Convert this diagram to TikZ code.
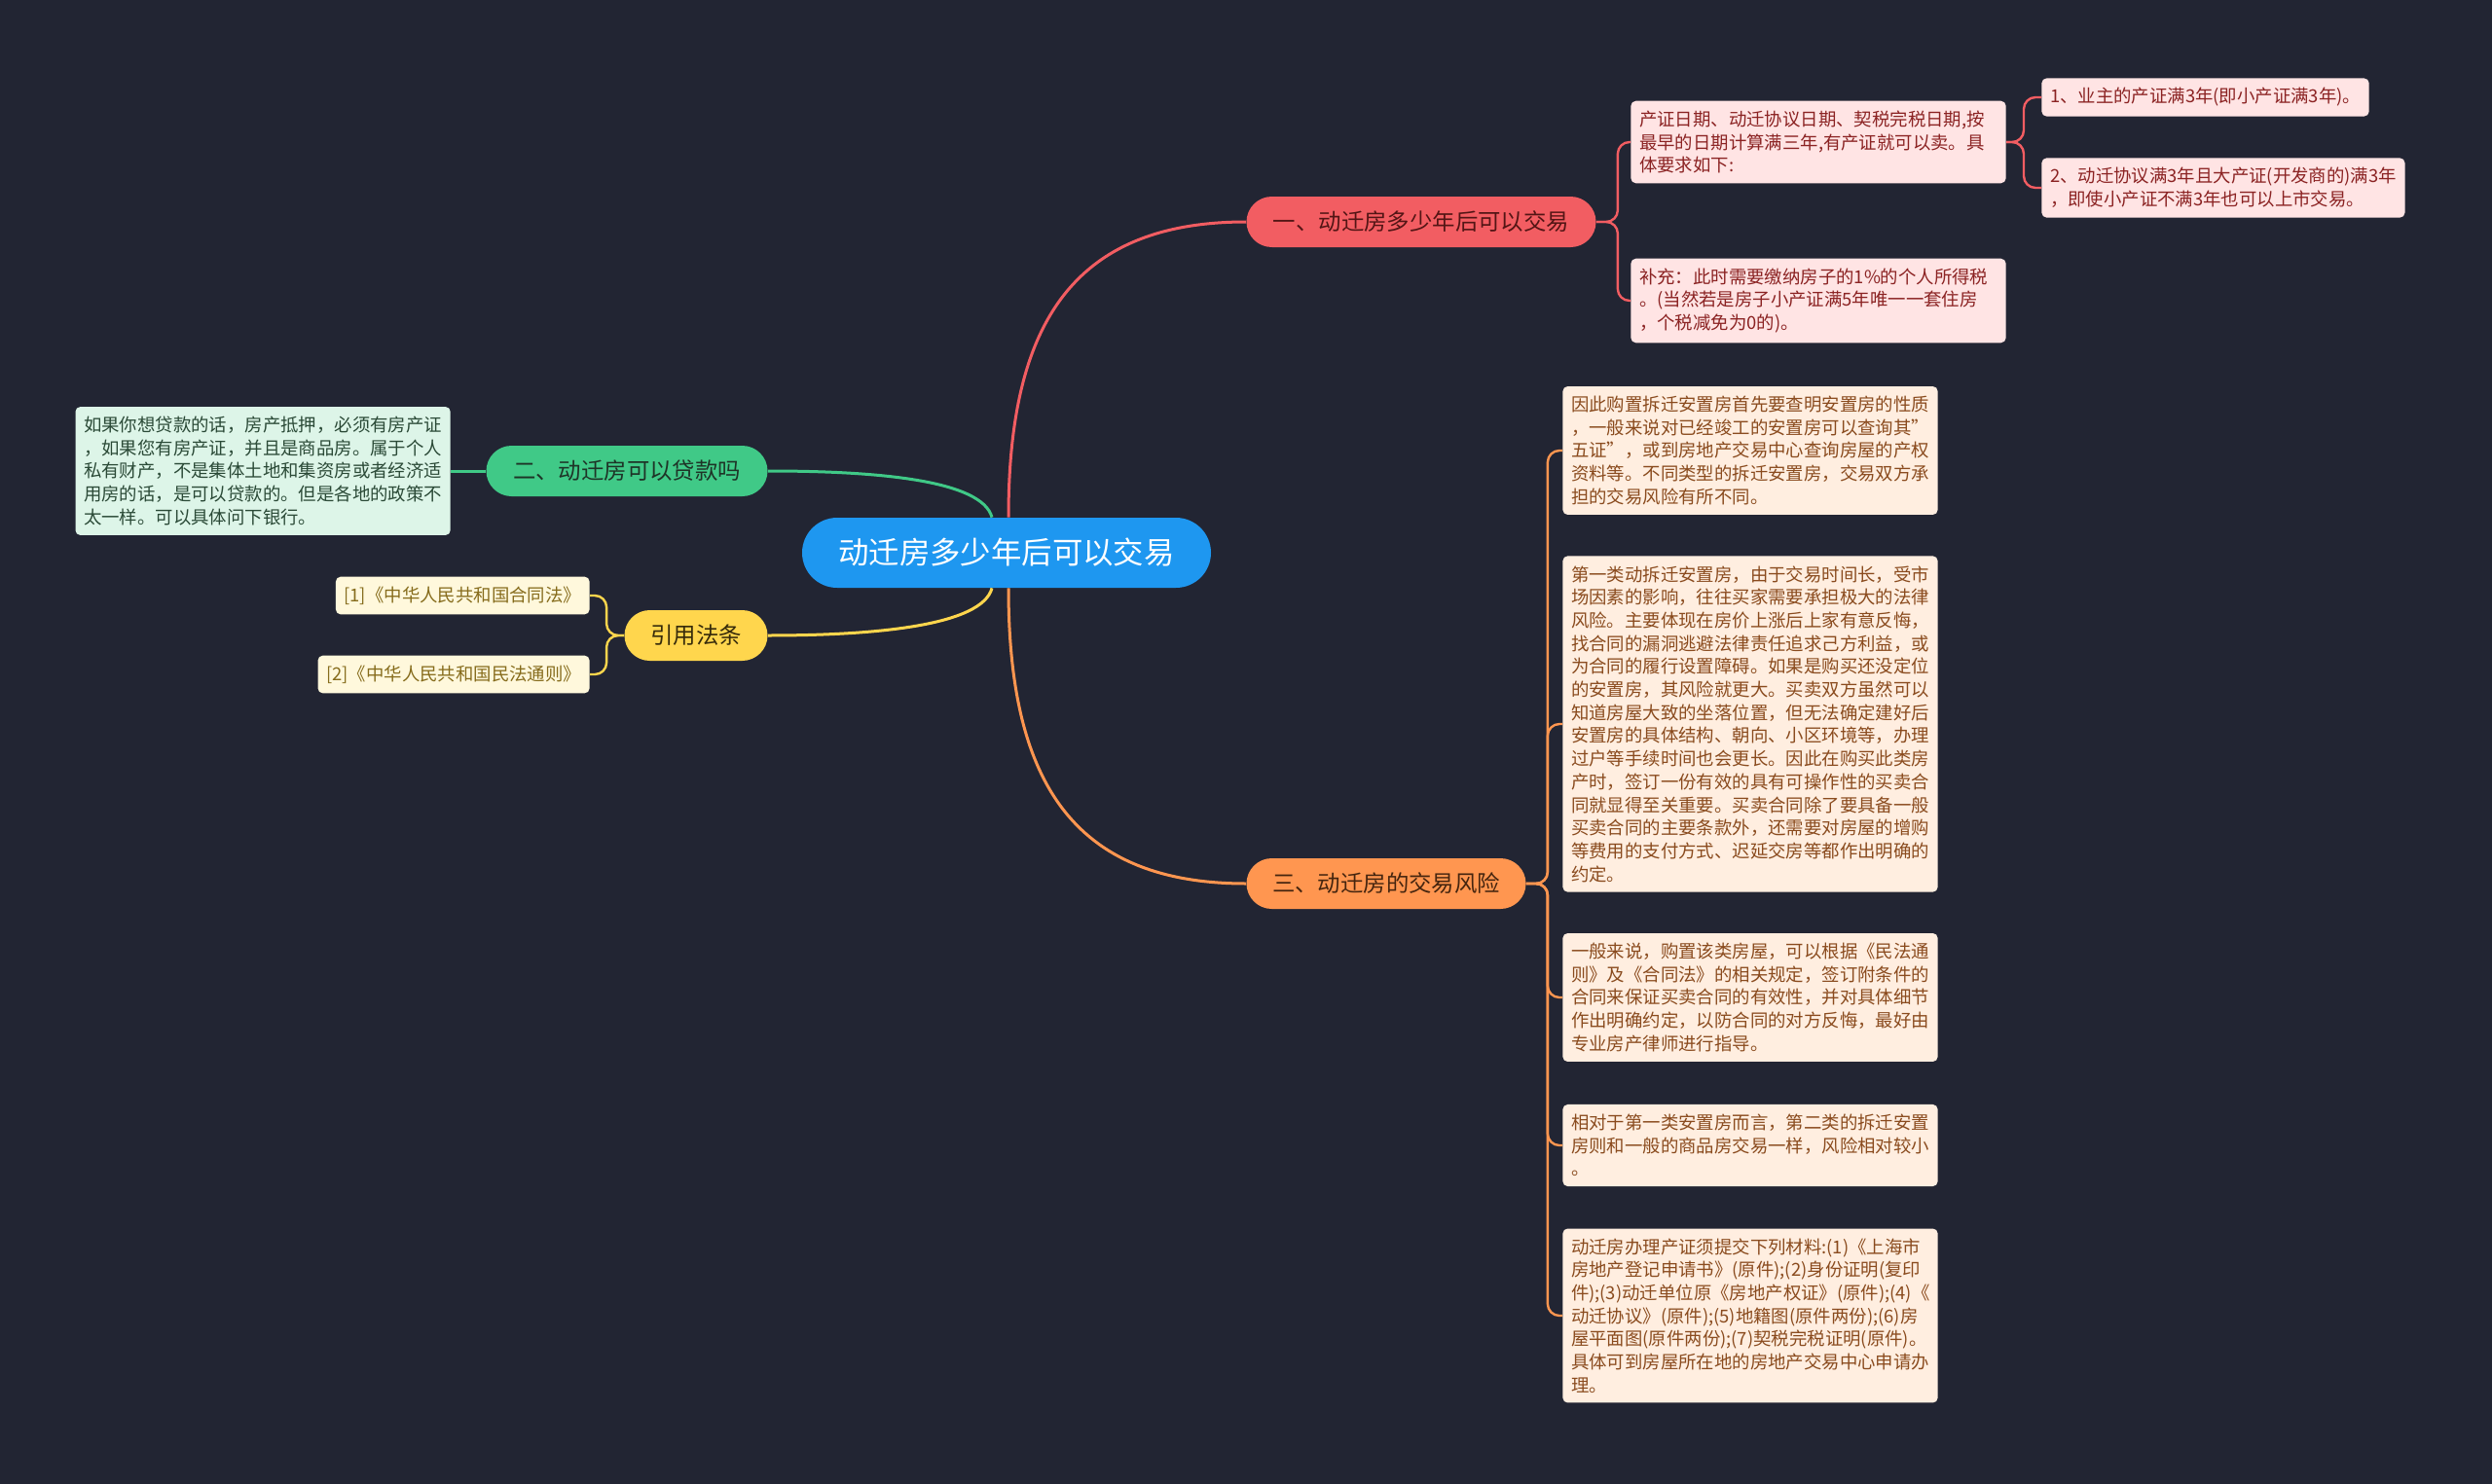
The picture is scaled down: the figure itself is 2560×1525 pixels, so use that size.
\documentclass[tikz,border=0pt]{standalone}
\usepackage{fontspec}
\setmainfont{Noto Sans CJK SC}
\usepackage{tikz}
\usetikzlibrary{positioning}
\definecolor{bg}{HTML}{222533}
\definecolor{rootc}{HTML}{1E97F0}
\definecolor{redc}{HTML}{F25D62}
\definecolor{grnc}{HTML}{40C987}
\definecolor{ylwc}{HTML}{FFD64D}
\definecolor{orgc}{HTML}{FF9650}
\definecolor{redl}{HTML}{FFE4E4}
\definecolor{grnl}{HTML}{DDF5E8}
\definecolor{ylwl}{HTML}{FFF8DC}
\definecolor{orgl}{HTML}{FFEEE0}
\definecolor{redt}{HTML}{8B2323}
\definecolor{grnt}{HTML}{2B4A37}
\definecolor{ylwt}{HTML}{866C1C}
\definecolor{orgt}{HTML}{8A4B1E}
\tikzset{
  topic/.style={fill=rootc, text=white, rounded corners=18pt, minimum height=36pt,
                minimum width=210pt, font=\fontsize{15.7pt}{18pt}\selectfont},
  branch/.style={rounded corners=13pt, minimum height=26pt, inner xsep=2pt,
                 font=\fontsize{11.7pt}{14pt}\selectfont},
  leaf/.style={rounded corners=2.5pt, align=left, inner xsep=4.3pt, inner ysep=5pt,
               font=\fontsize{9.2pt}{11.85pt}\selectfont},
  redleaf/.style={leaf, fill=redl, text=redt},
  orgleaf/.style={leaf, fill=orgl, text=orgt, text width=184pt, anchor=west},
  link/.style={line width=1.5pt},
  twig/.style={line width=1.2pt, rounded corners=6pt},
}

\begin{document}
\begin{tikzpicture}[x=0.5pt, y=-0.5pt]
  \fill[bg] (0,0) rectangle (2560,1525);
  \useasboundingbox (0,0) rectangle (2560,1525);

  \node[topic] (root) at (1034,568) {动迁房多少年后可以交易};
  \node[branch, fill=redc, text=redt!60!black, minimum width=179.5pt] (b1) at (1460,228) {一、动迁房多少年后可以交易};
  \node[branch, fill=grnc, text=grnt!70!black, minimum width=144.5pt] (b2) at (644,484) {二、动迁房可以贷款吗};
  \node[branch, fill=ylwc, text=ylwt!40!black, minimum width=73.5pt] (b3) at (715,653) {引用法条};
  \node[branch, fill=orgc, text=orgt!50!black, minimum width=143.5pt] (b4) at (1424,908) {三、动迁房的交易风险};

  \node[redleaf, text width=184pt, anchor=west] (r1) at (1675,146)
    {产证日期、动迁协议日期、契税完税日期,按\\最早的日期计算满三年,有产证就可以卖。具\\体要求如下:};
  \node[redleaf, text width=184pt, anchor=west] (r2) at (1675,309)
    {补充：此时需要缴纳房子的1\%的个人所得税\\。(当然若是房子小产证满5年唯一一套住房\\，个税减免为0的)。};
  \node[redleaf, anchor=west] (r1a) at (2097,100) {1、业主的产证满3年(即小产证满3年)。};
  \node[redleaf, anchor=west] (r1b) at (2097,193)
    {2、动迁协议满3年且大产证(开发商的)满3年\\，即使小产证不满3年也可以上市交易。};

  \node[leaf, fill=grnl, text=grnt, text width=184pt, left=18pt of b2] (g1)
    {如果你想贷款的话，房产抵押，必须有房产证\\，如果您有房产证，并且是商品房。属于个人\\私有财产，不是集体土地和集资房或者经济适\\用房的话，是可以贷款的。但是各地的政策不\\太一样。可以具体问下银行。};

  \node[leaf, fill=ylwl, text=ylwt, anchor=east] (y1) at (606,612) {[1]《中华人民共和国合同法》};
  \node[leaf, fill=ylwl, text=ylwt, anchor=east] (y2) at (606,693) {[2]《中华人民共和国民法通则》};

  \node[orgleaf] (o1) at (1605,463)
    {因此购置拆迁安置房首先要查明安置房的性质\\，一般来说对已经竣工的安置房可以查询其"\\五证"，或到房地产交易中心查询房屋的产权\\资料等。不同类型的拆迁安置房，交易双方承\\担的交易风险有所不同。};
  \node[orgleaf] (o2) at (1605,744)
    {第一类动拆迁安置房，由于交易时间长，受市\\场因素的影响，往往买家需要承担极大的法律\\风险。主要体现在房价上涨后上家有意反悔，\\找合同的漏洞逃避法律责任追求己方利益，或\\为合同的履行设置障碍。如果是购买还没定位\\的安置房，其风险就更大。买卖双方虽然可以\\知道房屋大致的坐落位置，但无法确定建好后\\安置房的具体结构、朝向、小区环境等，办理\\过户等手续时间也会更长。因此在购买此类房\\产时，签订一份有效的具有可操作性的买卖合\\同就显得至关重要。买卖合同除了要具备一般\\买卖合同的主要条款外，还需要对房屋的增购\\等费用的支付方式、迟延交房等都作出明确的\\约定。};
  \node[orgleaf] (o3) at (1605,1025)
    {一般来说，购置该类房屋，可以根据《民法通\\则》及《合同法》的相关规定，签订附条件的\\合同来保证买卖合同的有效性，并对具体细节\\作出明确约定，以防合同的对方反悔，最好由\\专业房产律师进行指导。};
  \node[orgleaf] (o4) at (1605,1177)
    {相对于第一类安置房而言，第二类的拆迁安置\\房则和一般的商品房交易一样，风险相对较小\\。};
  \node[orgleaf] (o5) at (1605,1352)
    {动迁房办理产证须提交下列材料:(1)《上海市\\房地产登记申请书》(原件);(2)身份证明(复印\\件);(3)动迁单位原《房地产权证》(原件);(4)《\\动迁协议》(原件);(5)地籍图(原件两份);(6)房\\屋平面图(原件两份);(7)契税完税证明(原件)。\\具体可到房屋所在地的房地产交易中心申请办\\理。};

  \draw[link, draw=redc] ([xshift=1pt]root.north) to[out=90, in=180, out distance=98pt, in distance=90pt] (b1.west);
  \draw[link, draw=orgc] ([xshift=1pt]root.south) to[out=-90, in=180, out distance=98pt, in distance=90pt] (b4.west);
  \draw[link, draw=grnc] (b2.east) to[out=0, in=105, out distance=55pt, in distance=20pt] ([xshift=-7.5pt]root.north);
  \draw[link, draw=ylwc] (b3.east) to[out=0, in=-105, out distance=55pt, in distance=20pt] ([xshift=-7.5pt]root.south);

  \draw[twig, draw=redc] (b1.east) -- ++(22,0) |- (r1.west);
  \draw[twig, draw=redc] (b1.east) -- ++(22,0) |- (r2.west);
  \draw[twig, draw=redc] (r1.east) -- ++(18,0) |- (r1a.west);
  \draw[twig, draw=redc] (r1.east) -- ++(18,0) |- (r1b.west);
  \draw[link, draw=grnc] (g1.east) -- (b2.west);
  \draw[twig, draw=ylwc] (b3.west) -- ++(-18,0) |- (y1.east);
  \draw[twig, draw=ylwc] (b3.west) -- ++(-18,0) |- (y2.east);
  \foreach \o in {o1,o2,o3,o4,o5}
    \draw[twig, draw=orgc] (b4.east) -- ++(22,0) |- (\o.west);
\end{tikzpicture}
\end{document}
